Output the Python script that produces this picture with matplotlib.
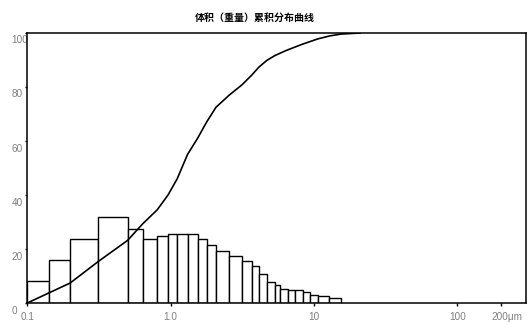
import matplotlib.pyplot as plt
from matplotlib.transforms import ScaledTranslation

# particle size class edges (um) and volume share of each class
bin_edges = [0.1, 0.141, 0.199, 0.313, 0.501, 0.637, 0.805, 0.958, 1.11, 1.31,
             1.54, 1.78, 2.07, 2.56, 3.14, 3.69, 4.11, 4.67, 5.31, 5.80,
             6.55, 7.39, 8.34, 9.40, 10.6, 12.8, 15.4]
bin_heights = [8.0, 15.8, 23.8, 31.9, 27.5, 23.8, 24.7, 25.6, 25.6, 25.6,
               23.8, 21.6, 19.3, 17.4, 15.6, 13.6, 10.8, 7.7, 6.6, 5.1,
               4.8, 4.7, 4.1, 3.1, 2.5, 1.8]

# cumulative curve
cum_x = [0.1, 0.141, 0.199, 0.313, 0.501, 0.637, 0.805, 0.958, 1.11, 1.31,
         1.54, 1.78, 2.07, 2.56, 3.14, 3.69, 4.11, 4.67, 5.31, 6.37,
         8.34, 10.6, 12.8, 15.4, 20.9]
cum_y = [0, 3.7, 7.4, 15.4, 23.2, 29.3, 34.5, 40, 46, 55,
         61, 67, 72.5, 77, 80.8, 84.5, 87.3, 89.8, 91.6, 93.5,
         95.9, 97.8, 98.9, 99.6, 100]

x_ticks = [0.1, 1.0, 10, 100, 200]
x_labels = ['0.1', '1.0', '10', '100', '200μm']
y_ticks = [0, 20, 40, 60, 80, 100]
title = '体积（重量）累积分布曲线'

fig = plt.figure(figsize=(5.28, 3.28), dpi=100)
ax = fig.add_axes([0.0517, 0.0762, 0.9443, 0.8232])

widths = [b - a for a, b in zip(bin_edges[:-1], bin_edges[1:])]
ax.bar(bin_edges[:-1], bin_heights, width=widths, align='edge',
       facecolor='white', edgecolor='black', linewidth=1.0)
ax.plot(cum_x, cum_y, color='black', linewidth=1.2)

ax.set_xscale('log')
ax.set_xlim(0.1, 300)
ax.set_ylim(0, 100)
ax.minorticks_off()
ax.set_xticks(x_ticks)
ax.set_xticklabels(x_labels)
ax.set_yticks(y_ticks)
ax.set_yticklabels([str(v) for v in y_ticks])

for s in ax.spines.values():
    s.set_linewidth(1.1)
    s.set_color('black')

ax.tick_params(axis='x', length=2, width=1, pad=4.5, labelsize=7.2,
               labelcolor='#808080')
ax.tick_params(axis='y', length=1.5, width=1, pad=0, labelsize=7.2,
               labelcolor='#808080')

for lab in ax.get_xticklabels():
    lab.set_family('Liberation Sans')
last = ax.get_xticklabels()[-1]
last.set_horizontalalignment('left')
last.set_transform(last.get_transform() + ScaledTranslation(-0.088, 0, fig.dpi_scale_trans))

for lab in ax.get_yticklabels():
    lab.set_family('Liberation Sans')
    lab.set_horizontalalignment('left')
    lab.set_transform(lab.get_transform() + ScaledTranslation(-0.135, -0.065, fig.dpi_scale_trans))

fig.text(0.483, 0.947, title, ha='center', va='center', fontsize=7.2,
         fontweight='bold', family=['Noto Sans CJK SC', 'DejaVu Sans'])

fig.savefig('out.png', dpi=100)
